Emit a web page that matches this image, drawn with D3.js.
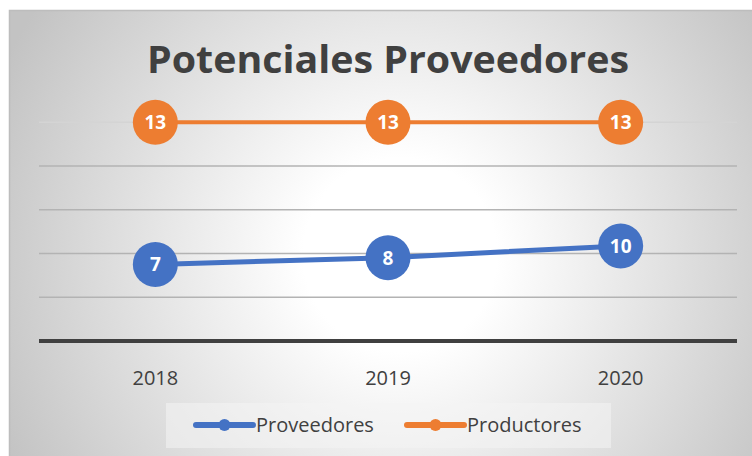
<!DOCTYPE html>
<html>
<head>
<meta charset="utf-8">
<script src="https://cdn.jsdelivr.net/npm/d3@7"></script>
<style>
  body { margin: 0; background: #fff; }
  svg { display: block; }
</style>
</head>
<body>
<svg id="chart" width="752" height="456"></svg>
<script>
//
// Data
//
var years = ['2018', '2019', '2020']
var proveedores = [7, 8, 10]
var productores = [13, 13, 13]
var seriesNames = ['Proveedores', 'Productores']
var seriesColors = ['#4472c4', '#ed7d31']
var gridTicks = [0.2, 0.4, 0.6, 0.8, 1]

//
// Layout
//
var width = 752, height = 456
var plot = { left: 39, right: 737, top: 122.3, bottom: 341 }

var svg = d3.select('#chart')
var defs = svg.append('defs')

var grad = defs.append('radialGradient')
  .attr('id', 'bg')
  .attr('gradientUnits', 'userSpaceOnUse')
  .attr('cx', 400).attr('cy', 255).attr('r', 440)
grad.append('stop').attr('offset', 0).attr('stop-color', '#ffffff')
grad.append('stop').attr('offset', 0.22).attr('stop-color', '#ffffff')
grad.append('stop').attr('offset', 1).attr('stop-color', '#c3c3c3')

// chart area (runs off the right/bottom edge like the source)
svg.append('rect')
  .attr('x', 9.5).attr('y', 10.5)
  .attr('width', 760).attr('height', 460)
  .attr('fill', 'url(#bg)')
  .attr('stroke', '#bdbdbd')
  .attr('stroke-width', 1.5)

// rows for the stack (100% stacked lines)
var rows = years.map(function(y, i) {
  return { year: y, Proveedores: proveedores[i], Productores: productores[i] }
})
var stacked = d3.stack().keys(seriesNames).offset(d3.stackOffsetExpand)(rows)

var x = d3.scaleBand().domain(years).range([plot.left, plot.right]).padding(0)
var y = d3.scaleLinear().domain([0, 1]).range([plot.bottom, plot.top])
function cx(d) { return x(d) + x.bandwidth() / 2 }

// gridlines
svg.append('g')
  .selectAll('line')
  .data(gridTicks)
  .join('line')
  .attr('x1', plot.left).attr('x2', plot.right)
  .attr('y1', function(d) { return y(d) }).attr('y2', function(d) { return y(d) })
  .attr('stroke', function(d) { return d === 1 ? '#d4d4d4' : '#b3b3b3' })
  .attr('stroke-width', 1.5)

// baseline
svg.append('line')
  .attr('x1', plot.left).attr('x2', plot.right)
  .attr('y1', y(0)).attr('y2', y(0))
  .attr('stroke', '#404040')
  .attr('stroke-width', 4)

// x axis labels
var xAxis = svg.append('g')
  .attr('transform', 'translate(0,' + y(0) + ')')
  .call(d3.axisBottom(x).tickSize(0).tickPadding(30))
xAxis.select('.domain').remove()
xAxis.selectAll('text')
  .attr('font-family', '"Open Sans", sans-serif')
  .attr('font-size', 20)
  .attr('fill', '#404040')

// title
svg.append('text')
  .attr('x', 388).attr('y', 73)
  .attr('text-anchor', 'middle')
  .attr('font-family', '"Open Sans", sans-serif')
  .attr('font-weight', 'bold')
  .attr('font-size', 37)
  .attr('fill', '#404040')
  .attr('textLength', 482)
  .attr('lengthAdjust', 'spacingAndGlyphs')
  .text('Potenciales Proveedores')

// lines + markers + labels
var line = d3.line()
  .x(function(d) { return cx(d.data.year) })
  .y(function(d) { return y(d[1]) })

var raw = [proveedores, productores]
var lineWidths = [5, 4]

stacked.forEach(function(s, si) {
  var g = svg.append('g')
  g.append('path')
    .datum(s)
    .attr('d', line)
    .attr('fill', 'none')
    .attr('stroke', seriesColors[si])
    .attr('stroke-width', lineWidths[si])
    .attr('stroke-linecap', 'round')

  var pts = g.selectAll('g.pt')
    .data(s)
    .join('g')
    .attr('class', 'pt')
    .attr('transform', function(d) { return 'translate(' + cx(d.data.year) + ',' + y(d[1]) + ')' })
  pts.append('circle')
    .attr('r', 22.5)
    .attr('fill', seriesColors[si])
  pts.append('text')
    .attr('text-anchor', 'middle')
    .attr('dy', '0.36em')
    .attr('font-family', '"Open Sans", sans-serif')
    .attr('font-weight', 'bold')
    .attr('font-size', 19)
    .attr('fill', '#ffffff')
    .text(function(d, i) { return raw[si][i] })
})

// legend
var legend = svg.append('g')
legend.append('rect')
  .attr('x', 166).attr('y', 403)
  .attr('width', 445).attr('height', 45)
  .attr('fill', '#f4f4f4')
  .attr('fill-opacity', 0.55)

var legendX = [196, 407]
seriesNames.forEach(function(name, i) {
  var lg = legend.append('g').attr('transform', 'translate(' + legendX[i] + ',425)')
  lg.append('line')
    .attr('x1', 0).attr('x2', 57)
    .attr('stroke', seriesColors[i])
    .attr('stroke-width', 6)
    .attr('stroke-linecap', 'round')
  lg.append('circle')
    .attr('cx', 28.5).attr('r', 6)
    .attr('fill', seriesColors[i])
  lg.append('text')
    .attr('x', 60).attr('y', 7)
    .attr('font-family', '"Open Sans", sans-serif')
    .attr('font-size', 20)
    .attr('fill', '#404040')
    .text(name)
})
</script>
</body>
</html>
